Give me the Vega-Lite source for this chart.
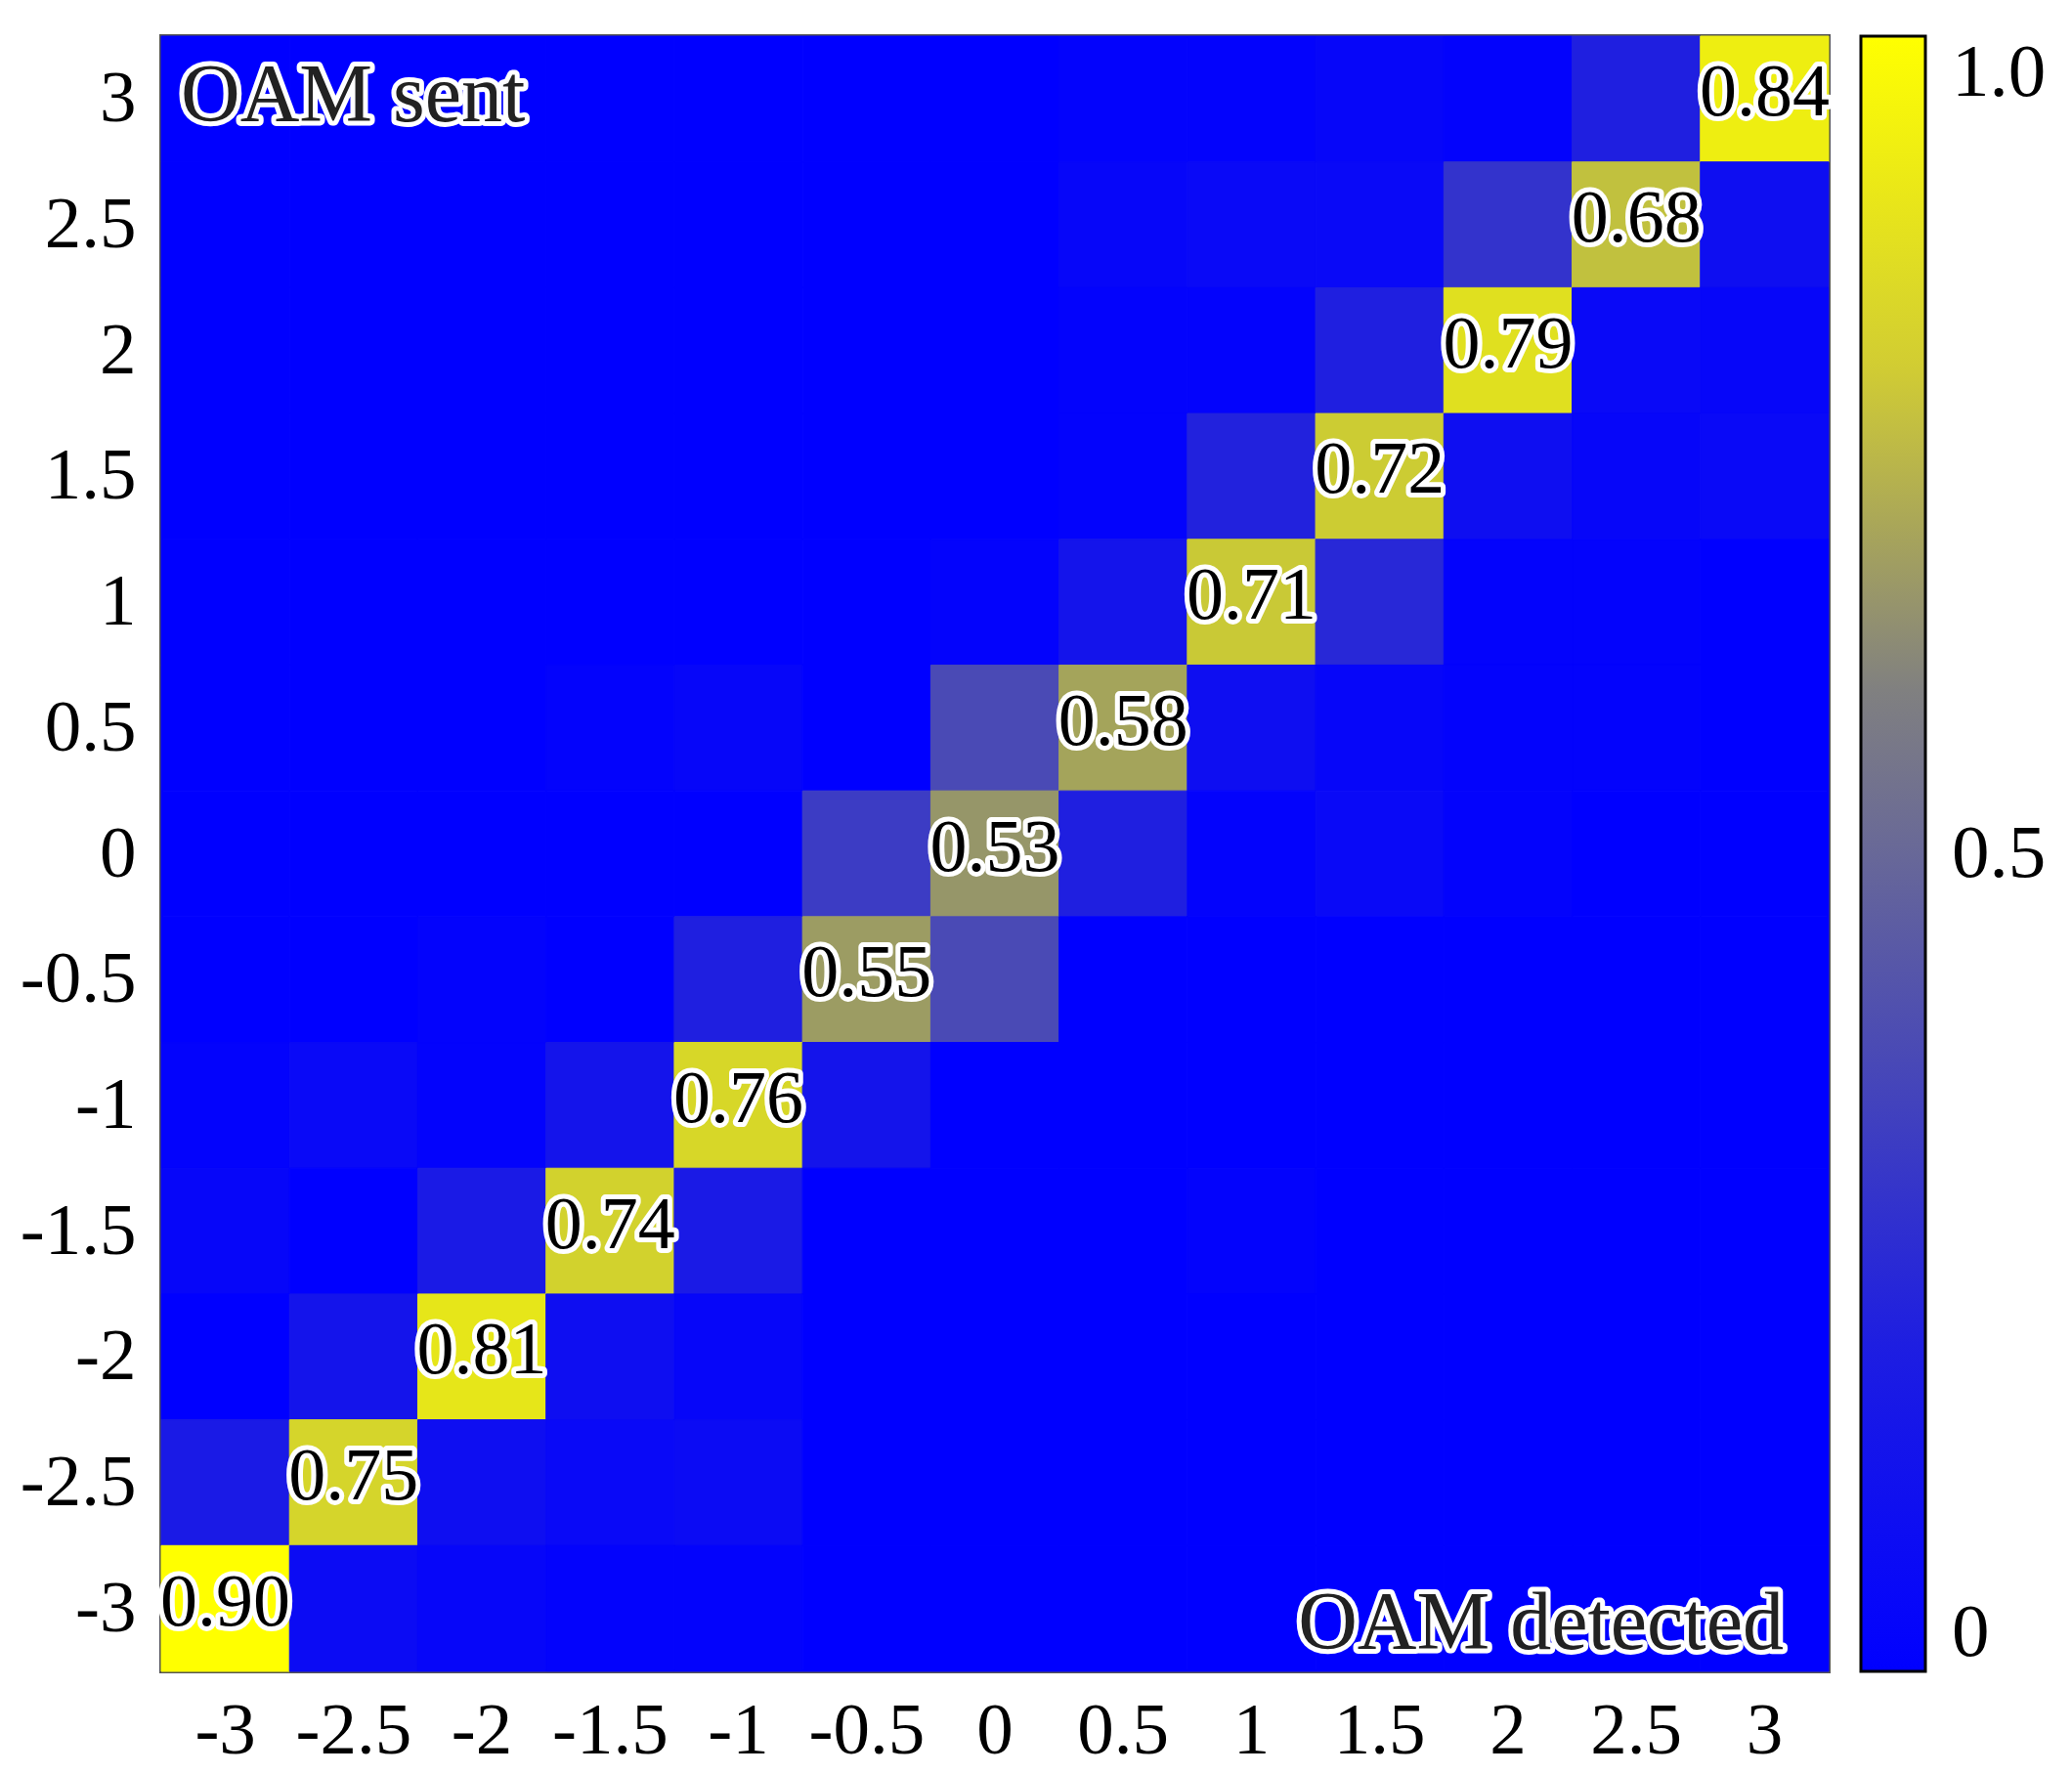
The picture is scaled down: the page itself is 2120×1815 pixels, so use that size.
{
  "$schema": "https://vega.github.io/schema/vega-lite/v6.json",
  "width": 1706,
  "height": 1673,
  "autosize": "none",
  "padding": {"left": 165, "top": 37, "right": 249, "bottom": 105},
  "background": "white",
  "config": {
    "view": {"stroke": "#555555", "strokeWidth": 4},
    "font": "Liberation Serif",
    "axis": {"domain": false, "ticks": false, "grid": false, "labelFont": "Liberation Serif", "labelFontSize": 75, "labelColor": "black", "title": null},
    "legend": {"padding": 0, "offset": 33}
  },
  "data": {"values": [
    {"x":-3,"y":3,"p":0},{"x":-2.5,"y":3,"p":0},{"x":-2,"y":3,"p":0},{"x":-1.5,"y":3,"p":0},{"x":-1,"y":3,"p":0},{"x":-0.5,"y":3,"p":0},{"x":0,"y":3,"p":0},{"x":0.5,"y":3,"p":0.01},{"x":1,"y":3,"p":0.01},{"x":1.5,"y":3,"p":0.02},{"x":2,"y":3,"p":0.01},{"x":2.5,"y":3,"p":0.11},{"x":3,"y":3,"p":0.84},
    {"x":-3,"y":2.5,"p":0},{"x":-2.5,"y":2.5,"p":0},{"x":-2,"y":2.5,"p":0},{"x":-1.5,"y":2.5,"p":0},{"x":-1,"y":2.5,"p":0},{"x":-0.5,"y":2.5,"p":0},{"x":0,"y":2.5,"p":0},{"x":0.5,"y":2.5,"p":0.02},{"x":1,"y":2.5,"p":0.03},{"x":1.5,"y":2.5,"p":0.03},{"x":2,"y":2.5,"p":0.18},{"x":2.5,"y":2.5,"p":0.68},{"x":3,"y":2.5,"p":0.05},
    {"x":-3,"y":2,"p":0},{"x":-2.5,"y":2,"p":0},{"x":-2,"y":2,"p":0},{"x":-1.5,"y":2,"p":0},{"x":-1,"y":2,"p":0},{"x":-0.5,"y":2,"p":0},{"x":0,"y":2,"p":0},{"x":0.5,"y":2,"p":0.01},{"x":1,"y":2,"p":0.01},{"x":1.5,"y":2,"p":0.11},{"x":2,"y":2,"p":0.79},{"x":2.5,"y":2,"p":0.03},{"x":3,"y":2,"p":0.02},
    {"x":-3,"y":1.5,"p":0},{"x":-2.5,"y":1.5,"p":0},{"x":-2,"y":1.5,"p":0},{"x":-1.5,"y":1.5,"p":0},{"x":-1,"y":1.5,"p":0},{"x":-0.5,"y":1.5,"p":0},{"x":0,"y":1.5,"p":0},{"x":0.5,"y":1.5,"p":0.01},{"x":1,"y":1.5,"p":0.12},{"x":1.5,"y":1.5,"p":0.72},{"x":2,"y":1.5,"p":0.05},{"x":2.5,"y":1.5,"p":0.02},{"x":3,"y":1.5,"p":0.03},
    {"x":-3,"y":1,"p":0},{"x":-2.5,"y":1,"p":0},{"x":-2,"y":1,"p":0},{"x":-1.5,"y":1,"p":0},{"x":-1,"y":1,"p":0},{"x":-0.5,"y":1,"p":0},{"x":0,"y":1,"p":0.01},{"x":0.5,"y":1,"p":0.07},{"x":1,"y":1,"p":0.71},{"x":1.5,"y":1,"p":0.14},{"x":2,"y":1,"p":0.01},{"x":2.5,"y":1,"p":0.01},{"x":3,"y":1,"p":0},
    {"x":-3,"y":0.5,"p":0},{"x":-2.5,"y":0.5,"p":0},{"x":-2,"y":0.5,"p":0},{"x":-1.5,"y":0.5,"p":0.01},{"x":-1,"y":0.5,"p":0.02},{"x":-0.5,"y":0.5,"p":0},{"x":0,"y":0.5,"p":0.26},{"x":0.5,"y":0.5,"p":0.58},{"x":1,"y":0.5,"p":0.05},{"x":1.5,"y":0.5,"p":0.02},{"x":2,"y":0.5,"p":0.01},{"x":2.5,"y":0.5,"p":0.01},{"x":3,"y":0.5,"p":0},
    {"x":-3,"y":0,"p":0},{"x":-2.5,"y":0,"p":0},{"x":-2,"y":0,"p":0},{"x":-1.5,"y":0,"p":0},{"x":-1,"y":0,"p":0},{"x":-0.5,"y":0,"p":0.21},{"x":0,"y":0,"p":0.53},{"x":0.5,"y":0,"p":0.11},{"x":1,"y":0,"p":0.01},{"x":1.5,"y":0,"p":0.03},{"x":2,"y":0,"p":0.01},{"x":2.5,"y":0,"p":0},{"x":3,"y":0,"p":0},
    {"x":-3,"y":-0.5,"p":0},{"x":-2.5,"y":-0.5,"p":0},{"x":-2,"y":-0.5,"p":0.01},{"x":-1.5,"y":-0.5,"p":0},{"x":-1,"y":-0.5,"p":0.11},{"x":-0.5,"y":-0.5,"p":0.55},{"x":0,"y":-0.5,"p":0.26},{"x":0.5,"y":-0.5,"p":0},{"x":1,"y":-0.5,"p":0},{"x":1.5,"y":-0.5,"p":0},{"x":2,"y":-0.5,"p":0},{"x":2.5,"y":-0.5,"p":0},{"x":3,"y":-0.5,"p":0},
    {"x":-3,"y":-1,"p":0.01},{"x":-2.5,"y":-1,"p":0.03},{"x":-2,"y":-1,"p":0.01},{"x":-1.5,"y":-1,"p":0.07},{"x":-1,"y":-1,"p":0.76},{"x":-0.5,"y":-1,"p":0.07},{"x":0,"y":-1,"p":0},{"x":0.5,"y":-1,"p":0},{"x":1,"y":-1,"p":0},{"x":1.5,"y":-1,"p":0},{"x":2,"y":-1,"p":0},{"x":2.5,"y":-1,"p":0},{"x":3,"y":-1,"p":0},
    {"x":-3,"y":-1.5,"p":0.02},{"x":-2.5,"y":-1.5,"p":0},{"x":-2,"y":-1.5,"p":0.09},{"x":-1.5,"y":-1.5,"p":0.74},{"x":-1,"y":-1.5,"p":0.09},{"x":-0.5,"y":-1.5,"p":0},{"x":0,"y":-1.5,"p":0},{"x":0.5,"y":-1.5,"p":0},{"x":1,"y":-1.5,"p":0.01},{"x":1.5,"y":-1.5,"p":0},{"x":2,"y":-1.5,"p":0},{"x":2.5,"y":-1.5,"p":0},{"x":3,"y":-1.5,"p":0},
    {"x":-3,"y":-2,"p":0},{"x":-2.5,"y":-2,"p":0.07},{"x":-2,"y":-2,"p":0.81},{"x":-1.5,"y":-2,"p":0.05},{"x":-1,"y":-2,"p":0.02},{"x":-0.5,"y":-2,"p":0},{"x":0,"y":-2,"p":0},{"x":0.5,"y":-2,"p":0},{"x":1,"y":-2,"p":0},{"x":1.5,"y":-2,"p":0},{"x":2,"y":-2,"p":0},{"x":2.5,"y":-2,"p":0},{"x":3,"y":-2,"p":0},
    {"x":-3,"y":-2.5,"p":0.09},{"x":-2.5,"y":-2.5,"p":0.75},{"x":-2,"y":-2.5,"p":0.05},{"x":-1.5,"y":-2.5,"p":0.03},{"x":-1,"y":-2.5,"p":0.04},{"x":-0.5,"y":-2.5,"p":0},{"x":0,"y":-2.5,"p":0},{"x":0.5,"y":-2.5,"p":0},{"x":1,"y":-2.5,"p":0},{"x":1.5,"y":-2.5,"p":0},{"x":2,"y":-2.5,"p":0},{"x":2.5,"y":-2.5,"p":0},{"x":3,"y":-2.5,"p":0},
    {"x":-3,"y":-3,"p":0.9},{"x":-2.5,"y":-3,"p":0.04},{"x":-2,"y":-3,"p":0.02},{"x":-1.5,"y":-3,"p":0.01},{"x":-1,"y":-3,"p":0.01},{"x":-0.5,"y":-3,"p":0},{"x":0,"y":-3,"p":0},{"x":0.5,"y":-3,"p":0},{"x":1,"y":-3,"p":0},{"x":1.5,"y":-3,"p":0},{"x":2,"y":-3,"p":0},{"x":2.5,"y":-3,"p":0},{"x":3,"y":-3,"p":0}
  ]},
  "layer": [
    {
      "mark": {"type": "rect", "opacity": 0},
      "encoding": {
        "x": {"field": "x", "type": "ordinal", "sort": "ascending", "scale": {"paddingInner": 0, "paddingOuter": 0}, "axis": {"labelAngle": 0, "labelPadding": 24, "labelExpr": "'' + datum.value"}},
        "y": {"field": "y", "type": "ordinal", "sort": "descending", "scale": {"paddingInner": 0, "paddingOuter": 0}, "axis": {"labelPadding": 26, "labelExpr": "'' + datum.value"}},
        "color": {
          "field": "p", "type": "quantitative",
          "scale": {"domain": [0, 0.2, 0.4, 0.6, 0.8, 1], "range": ["#0000ff", "#1e1ee1", "#4f4fb0", "#808080", "#d2cd32", "#ffff00"], "interpolate": "rgb"},
          "legend": {"title": null, "values": [0, 0.5, 1], "gradientLength": 1673, "gradientThickness": 66, "gradientStrokeColor": "black", "gradientStrokeWidth": 3, "labelFont": "Liberation Serif", "labelFontSize": 77, "labelColor": "black", "labelOffset": 27, "labelExpr": "datum.value == 1 ? '1.0' : datum.value == 0.5 ? '0.5' : '0'"}
        }
      }
    },
    {
      "mark": {"type": "rect", "strokeWidth": 1},
      "encoding": {
        "x": {"field": "x", "type": "ordinal", "sort": "ascending"},
        "y": {"field": "y", "type": "ordinal", "sort": "descending"},
        "color": {"field": "p", "type": "quantitative", "scale": {"domain": [0, 0.9], "range": ["#0000ff", "#ffff00"], "interpolate": "rgb", "clamp": true}, "legend": null},
        "stroke": {"field": "p", "type": "quantitative", "scale": {"domain": [0, 0.9], "range": ["#0000ff", "#ffff00"], "interpolate": "rgb", "clamp": true}, "legend": null}
      }
    },
    {
      "transform": [{"filter": "datum.x == datum.y"}],
      "mark": {"type": "text", "font": "Liberation Serif", "fontSize": 76, "baseline": "alphabetic", "dy": 17, "fill": "white", "stroke": "white", "strokeWidth": 10, "strokeJoin": "round"},
      "encoding": {
        "x": {"field": "x", "type": "ordinal", "sort": "ascending"},
        "y": {"field": "y", "type": "ordinal", "sort": "descending"},
        "text": {"field": "p", "type": "quantitative", "format": ".2f"}
      }
    },
    {
      "transform": [{"filter": "datum.x == datum.y"}],
      "mark": {"type": "text", "font": "Liberation Serif", "fontSize": 76, "baseline": "alphabetic", "dy": 17, "fill": "black"},
      "encoding": {
        "x": {"field": "x", "type": "ordinal", "sort": "ascending"},
        "y": {"field": "y", "type": "ordinal", "sort": "descending"},
        "text": {"field": "p", "type": "quantitative", "format": ".2f"}
      }
    },
    {
      "data": {"values": [{"x": -3, "y": 3, "t": "OAM sent"}]},
      "layer": [
        {"mark": {"type": "text", "font": "Liberation Serif", "fontSize": 84, "align": "left", "baseline": "alphabetic", "dx": 20, "dy": 23, "fill": "white", "stroke": "white", "strokeWidth": 10, "strokeJoin": "round"}},
        {"mark": {"type": "text", "font": "Liberation Serif", "fontSize": 84, "align": "left", "baseline": "alphabetic", "dx": 20, "dy": 23, "fill": "#222222"}}
      ],
      "encoding": {
        "x": {"field": "x", "type": "ordinal", "sort": "ascending", "bandPosition": 0},
        "y": {"field": "y", "type": "ordinal", "sort": "descending"},
        "text": {"field": "t"}
      }
    },
    {
      "data": {"values": [{"x": 3, "y": -3, "t": "OAM detected"}]},
      "layer": [
        {"mark": {"type": "text", "font": "Liberation Serif", "fontSize": 84, "align": "right", "baseline": "alphabetic", "dx": -46, "dy": 41, "fill": "white", "stroke": "white", "strokeWidth": 10, "strokeJoin": "round"}},
        {"mark": {"type": "text", "font": "Liberation Serif", "fontSize": 84, "align": "right", "baseline": "alphabetic", "dx": -46, "dy": 41, "fill": "#222222"}}
      ],
      "encoding": {
        "x": {"field": "x", "type": "ordinal", "sort": "ascending", "bandPosition": 1},
        "y": {"field": "y", "type": "ordinal", "sort": "descending"},
        "text": {"field": "t"}
      }
    }
  ],
  "resolve": {"scale": {"color": "independent"}}
}
